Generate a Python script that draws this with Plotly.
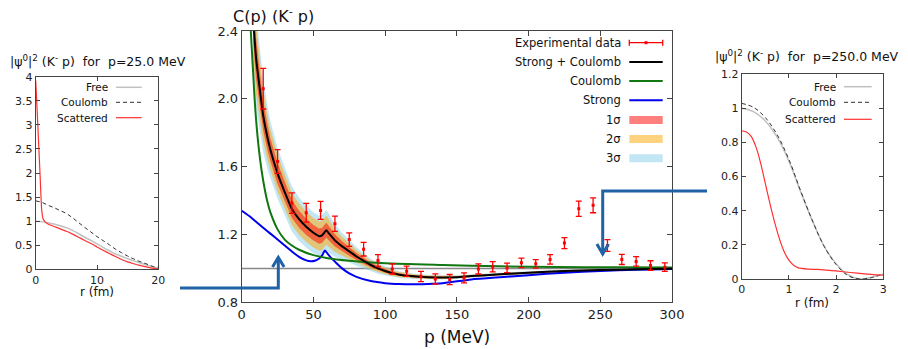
import plotly.graph_objects as go

W, H = 908, 349
FONT = "DejaVu Sans"

# ---------------- main panel data ----------------
p_exp = [15, 25, 35, 45, 55, 65, 75, 85, 95, 105, 115, 125, 135, 145, 155,
         165, 175, 185, 195, 205, 215, 225, 235, 245, 255, 265, 275, 285, 295]
c_exp = [2.06, 1.63, 1.385, 1.328, 1.342, 1.263, 1.17, 1.113, 1.046, 0.997, 0.983, 0.952, 0.938, 0.934, 0.944,
         0.997, 1.01, 1.003, 1.033, 1.027, 1.053, 1.149, 1.352, 1.372, 1.135, 1.053, 1.041, 1.017, 1.007]
c_err = [0.12, 0.07, 0.06, 0.055, 0.053, 0.045, 0.04, 0.04, 0.035, 0.03, 0.03, 0.03, 0.03, 0.03, 0.03,
         0.03, 0.03, 0.028, 0.028, 0.025, 0.028, 0.032, 0.045, 0.044, 0.035, 0.03, 0.028, 0.028, 0.025]

# Strong + Coulomb
p_sc = [8, 10, 12, 15, 18, 20, 25, 30, 35, 40, 45, 50, 54, 56, 57.5, 59, 60.5, 62, 65, 70, 75, 80,
        85, 90, 95, 100, 105, 110, 120, 130, 140, 150, 160, 180, 200, 225, 250, 275, 300]
c_sc = [2.47, 2.24, 2.10, 1.90, 1.77, 1.70, 1.56, 1.45, 1.35, 1.29, 1.245, 1.21, 1.19, 1.195, 1.21, 1.225, 1.21,
        1.195, 1.165, 1.13, 1.10, 1.07, 1.045, 1.02, 1.0, 0.985, 0.972, 0.963, 0.953, 0.948, 0.946, 0.948,
        0.955, 0.965, 0.975, 0.984, 0.99, 0.995, 0.998]
# band half-widths on the p_sc grid
sig1 = [0.13, 0.12, 0.105, 0.088, 0.075, 0.068, 0.062, 0.057, 0.053, 0.05, 0.048, 0.046, 0.045, 0.045, 0.044, 0.044, 0.043,
        0.041, 0.036, 0.03, 0.025, 0.021, 0.017, 0.014, 0.012, 0.011, 0.01, 0.009, 0.007, 0.006, 0.005, 0.005,
        0.004, 0.004, 0.004, 0.003, 0.003, 0.003, 0.003]
sig2 = [0.23, 0.21, 0.185, 0.155, 0.132, 0.12, 0.108, 0.1, 0.095, 0.092, 0.089, 0.087, 0.086, 0.086, 0.085, 0.085, 0.083,
        0.078, 0.069, 0.056, 0.046, 0.038, 0.031, 0.026, 0.022, 0.019, 0.017, 0.015, 0.012, 0.01, 0.009, 0.008,
        0.008, 0.007, 0.006, 0.006, 0.005, 0.005, 0.005]
sig3 = [0.32, 0.29, 0.255, 0.215, 0.185, 0.168, 0.15, 0.14, 0.133, 0.128, 0.124, 0.121, 0.12, 0.12, 0.12, 0.12, 0.116,
        0.11, 0.097, 0.08, 0.066, 0.055, 0.045, 0.037, 0.032, 0.027, 0.023, 0.02, 0.016, 0.014, 0.012, 0.011,
        0.01, 0.009, 0.008, 0.008, 0.007, 0.007, 0.007]

# Coulomb only
p_cou = [6, 7, 8, 9, 10, 12, 14, 16, 18, 20, 25, 30, 35, 40, 50, 60, 75, 100, 140, 180, 220, 260, 300]
c_cou = [2.45, 2.30, 2.15, 2.0, 1.88, 1.70, 1.57, 1.47, 1.39, 1.33, 1.23, 1.17, 1.135, 1.11, 1.078, 1.06,
         1.045, 1.03, 1.02, 1.012, 1.008, 1.006, 1.005]

# Strong only
p_str = [0, 5, 10, 15, 20, 25, 30, 35, 40, 45, 48, 51, 54, 56, 58, 60, 62, 65, 70, 75, 80, 90, 100,
         110, 120, 130, 140, 160, 180, 200, 225, 250, 275, 300]
c_str = [1.34, 1.31, 1.275, 1.24, 1.205, 1.17, 1.135, 1.10, 1.068, 1.047, 1.042, 1.045, 1.058, 1.075, 1.105,
         1.085, 1.065, 1.04, 1.0, 0.97, 0.95, 0.925, 0.913, 0.908, 0.907, 0.908, 0.912, 0.935, 0.948, 0.96,
         0.975, 0.985, 0.992, 0.996]
baseline = 1.0

# ---------------- left panel (p = 25 MeV) ----------------
r_l = [0, 1, 2, 3, 4, 5, 6, 7, 8, 9, 10, 11, 12, 13, 14, 15, 16, 17, 18, 19, 20]
free_l = [1.0, 0.99, 0.965, 0.94, 0.905, 0.865, 0.81, 0.74, 0.665, 0.6, 0.53, 0.455, 0.385, 0.32, 0.27,
          0.22, 0.175, 0.135, 0.095, 0.055, 0.02]
coul_l = [1.42, 1.39, 1.33, 1.28, 1.22, 1.16, 1.07, 0.97, 0.87, 0.775, 0.68, 0.595, 0.51, 0.42, 0.345,
          0.275, 0.215, 0.16, 0.115, 0.065, 0.02]
r_ls = [0, 0.2, 0.43, 0.7, 0.98, 1.2, 1.5, 2, 3, 4, 5, 6, 7, 8, 9, 10, 11, 12, 13, 14, 15, 16, 17, 18, 19, 20]
scat_l = [3.92, 3.4, 2.75, 2.0, 1.23, 1.05, 0.99, 0.94, 0.89, 0.84, 0.79, 0.73, 0.665, 0.6, 0.535, 0.465,
          0.395, 0.33, 0.265, 0.205, 0.155, 0.115, 0.08, 0.05, 0.025, 0.01]

# ---------------- right panel (p = 250 MeV) ----------------
r_r = [0, 0.25, 0.5, 0.75, 1.0, 1.25, 1.5, 1.75, 2.0, 2.25, 2.5, 2.75, 3.0]
free_r = [1.0, 0.98, 0.925, 0.83, 0.69, 0.51, 0.34, 0.19, 0.09, 0.025, 0.0, 0.01, 0.03]
coul_r = [1.028, 1.005, 0.945, 0.845, 0.70, 0.515, 0.34, 0.19, 0.085, 0.02, 0.0, 0.008, 0.03]
r_rs = [0, 0.1, 0.2, 0.3, 0.4, 0.5, 0.6, 0.7, 0.8, 0.9, 1.0, 1.1, 1.2, 1.4, 1.6, 1.8, 2.0, 2.3, 2.6, 3.0]
scat_r = [0.868, 0.86, 0.835, 0.775, 0.68, 0.56, 0.44, 0.33, 0.235, 0.16, 0.11, 0.08, 0.065, 0.058, 0.056,
          0.052, 0.047, 0.038, 0.03, 0.022]

# colours
C_RED = "#ff0000"
C_GREEN = "#117711"
C_BLUE = "#0000ee"
C_S1 = "rgba(255,0,0,0.5)"
C_S2 = "rgba(255,165,0,0.5)"
C_S3 = "rgba(135,206,235,0.5)"
C_ARROW = "#1f62a6"


def X(px):
    return px / W


def Y(py):
    return 1 - py / H


fig = go.Figure()


def band(hw, color):
    up = [c + h for c, h in zip(c_sc, hw)]
    lo = [c - h for c, h in zip(c_sc, hw)]
    fig.add_trace(go.Scatter(x=p_sc + p_sc[::-1], y=up + lo[::-1], fill="toself", fillcolor=color,
                             line=dict(width=0), mode="lines", hoverinfo="skip", showlegend=False,
                             xaxis="x", yaxis="y"))


band(sig3, C_S3)
band(sig2, C_S2)
band(sig1, C_S1)

fig.add_trace(go.Scatter(x=p_str, y=c_str, mode="lines", line=dict(color=C_BLUE, width=2, shape="spline", smoothing=0.6),
                         showlegend=False, xaxis="x", yaxis="y"))
fig.add_trace(go.Scatter(x=p_cou, y=c_cou, mode="lines", line=dict(color=C_GREEN, width=2, shape="spline", smoothing=0.6),
                         showlegend=False, xaxis="x", yaxis="y"))
fig.add_trace(go.Scatter(x=p_sc, y=c_sc, mode="lines", line=dict(color="black", width=2, shape="spline", smoothing=0.4),
                         showlegend=False, xaxis="x", yaxis="y"))
fig.add_trace(go.Scatter(x=p_exp, y=c_exp, mode="markers",
                         marker=dict(color=C_RED, size=3, symbol="square"),
                         error_y=dict(type="data", array=c_err, color=C_RED, thickness=1.3, width=3),
                         showlegend=False, xaxis="x", yaxis="y"))

# left panel
fig.add_trace(go.Scatter(x=r_l, y=free_l, mode="lines", line=dict(color="#c0c0c0", width=1.5, shape="spline"),
                         showlegend=False, xaxis="x2", yaxis="y2"))
fig.add_trace(go.Scatter(x=r_l, y=coul_l, mode="lines", line=dict(color="#333333", width=1, dash="4px,3px", shape="spline"),
                         showlegend=False, xaxis="x2", yaxis="y2"))
fig.add_trace(go.Scatter(x=r_ls, y=scat_l, mode="lines", line=dict(color="#ff3030", width=1.2, shape="spline", smoothing=0.5),
                         showlegend=False, xaxis="x2", yaxis="y2"))

# right panel
fig.add_trace(go.Scatter(x=r_r, y=free_r, mode="lines", line=dict(color="#c0c0c0", width=1.5, shape="spline"),
                         showlegend=False, xaxis="x3", yaxis="y3"))
fig.add_trace(go.Scatter(x=r_r, y=coul_r, mode="lines", line=dict(color="#333333", width=1, dash="4px,3px", shape="spline"),
                         showlegend=False, xaxis="x3", yaxis="y3"))
fig.add_trace(go.Scatter(x=r_rs, y=scat_r, mode="lines", line=dict(color="#ff3030", width=1.2, shape="spline", smoothing=0.6),
                         showlegend=False, xaxis="x3", yaxis="y3"))

axis_common = dict(showline=True, mirror="ticks", ticks="inside", ticklen=5, showgrid=False, zeroline=False,
                   linecolor="#444444", tickcolor="#444444", linewidth=1, automargin=False)

shapes = []
annotations = []

# baseline at 1
shapes.append(dict(type="line", xref="x domain", yref="y", x0=0, x1=1, y0=baseline, y1=baseline,
                   line=dict(color="#888888", width=1.5), layer="below"))

# arrows
def path(pts):
    return "M " + " L ".join(f"{X(a):.5f},{Y(b):.5f}" for a, b in pts)

arrow_style = dict(type="path", xref="paper", yref="paper", line=dict(color=C_ARROW, width=3))
shapes.append(dict(arrow_style, path=path([(180, 288), (278.3, 288), (278.3, 258)])))
shapes.append(dict(arrow_style, path=path([(272.5, 267), (278.3, 257.5), (284.1, 267)])))
shapes.append(dict(arrow_style, path=path([(707, 191), (602.7, 191), (602.7, 253)])))
shapes.append(dict(arrow_style, path=path([(596.9, 244), (602.7, 254), (608.5, 244)])))

# main legend
leg_rows = [42.7, 62, 81, 100.3, 120, 139, 158.3]
leg_labels = ["Experimental data", "Strong + Coulomb", "Coulomb", "Strong", "1σ", "2σ", "3σ"]
tx, s0, s1 = 622.7, 629.3, 662.7
for yy, lab in zip(leg_rows, leg_labels):
    annotations.append(dict(x=X(tx), y=Y(yy), xref="paper", yref="paper", text=lab, showarrow=False,
                            xanchor="right", yanchor="middle", font=dict(family=FONT, size=11.5, color="#111")))
# exp data sample
ye = leg_rows[0]
shapes.append(dict(type="line", xref="paper", yref="paper", x0=X(s0), x1=X(s1), y0=Y(ye), y1=Y(ye),
                   line=dict(color=C_RED, width=1.3)))
for xx in (s0, s1):
    shapes.append(dict(type="line", xref="paper", yref="paper", x0=X(xx), x1=X(xx), y0=Y(ye - 3), y1=Y(ye + 3),
                       line=dict(color=C_RED, width=1.3)))
shapes.append(dict(type="rect", xref="paper", yref="paper", x0=X((s0 + s1) / 2 - 1.5), x1=X((s0 + s1) / 2 + 1.5),
                   y0=Y(ye - 1.5), y1=Y(ye + 1.5), fillcolor=C_RED, line=dict(width=0)))
for yy, col in zip(leg_rows[1:4], ["black", C_GREEN, C_BLUE]):
    shapes.append(dict(type="line", xref="paper", yref="paper", x0=X(s0), x1=X(s1), y0=Y(yy), y1=Y(yy),
                       line=dict(color=col, width=2)))
for yy, col in zip(leg_rows[4:], [C_S1, C_S2, C_S3]):
    shapes.append(dict(type="rect", xref="paper", yref="paper", x0=X(s0), x1=X(s1), y0=Y(yy - 4), y1=Y(yy + 4),
                       fillcolor=col, line=dict(width=0)))

# side legends
def side_legend(rows, txr, a, b):
    labs = ["Free", "Coulomb", "Scattered"]
    styles = [dict(color="#c0c0c0", width=1.5), dict(color="#333333", width=1, dash="4px,3px"),
              dict(color="#ff3030", width=1.2)]
    for yy, lab, st in zip(rows, labs, styles):
        annotations.append(dict(x=X(txr), y=Y(yy), xref="paper", yref="paper", text=lab, showarrow=False,
                                xanchor="right", yanchor="middle", font=dict(family=FONT, size=10.5, color="#111")))
        shapes.append(dict(type="line", xref="paper", yref="paper", x0=X(a), x1=X(b), y0=Y(yy), y1=Y(yy), line=st))

side_legend([87.3, 102.3, 117.7], 110, 116, 141.7)
side_legend([86.7, 102.3, 119.3], 838.3, 844, 871.7)

# titles
nb = "\u00a0"
annotations += [
    dict(x=X(231), y=Y(15), xref="paper", yref="paper", showarrow=False, xanchor="left", yanchor="middle",
         text="C(p) (K<sup>-</sup> p)", font=dict(family=FONT, size=16, color="#111")),
    dict(x=X(456.7), y=Y(336.7), xref="paper", yref="paper", showarrow=False, xanchor="center", yanchor="middle",
         text="p (MeV)", font=dict(family=FONT, size=17, color="#111")),
    dict(x=X(8), y=Y(60.7), xref="paper", yref="paper", showarrow=False, xanchor="left", yanchor="middle",
         text=f"|ψ<sup>0</sup>|<sup>2</sup> (K<sup>-</sup> p){nb}{nb}for{nb}{nb}p=25.0 MeV",
         font=dict(family=FONT, size=12.5, color="#111")),
    dict(x=X(712.7), y=Y(56), xref="paper", yref="paper", showarrow=False, xanchor="left", yanchor="middle",
         text=f"|ψ<sup>0</sup>|<sup>2</sup> (K<sup>-</sup> p){nb}{nb}for{nb}{nb}p=250.0 MeV",
         font=dict(family=FONT, size=12.5, color="#111")),
    dict(x=X(96.7), y=Y(291.7), xref="paper", yref="paper", showarrow=False, xanchor="center", yanchor="middle",
         text="r (fm)", font=dict(family=FONT, size=12, color="#111")),
    dict(x=X(812), y=Y(303), xref="paper", yref="paper", showarrow=False, xanchor="center", yanchor="middle",
         text="r (fm)", font=dict(family=FONT, size=12, color="#111")),
]

main_ticks_y = [0.8, 1.2, 1.6, 2.0, 2.4]
fig.update_layout(
    width=W, height=H, margin=dict(l=0, r=0, t=0, b=0, pad=0, autoexpand=False),
    paper_bgcolor="white", plot_bgcolor="white", showlegend=False,
    font=dict(family=FONT, color="#222"),
    xaxis=dict(axis_common, domain=[X(241.7), X(672)], range=[0, 300], tickvals=[0, 50, 100, 150, 200, 250, 300],
               tickfont=dict(size=13), anchor="y"),
    yaxis=dict(axis_common, domain=[Y(302.3), Y(31)], range=[0.8, 2.4], tickvals=main_ticks_y,
               ticktext=[f"{v:.1f}" for v in main_ticks_y], tickfont=dict(size=13), anchor="x"),
    xaxis2=dict(axis_common, domain=[X(35.7), X(158.3)], range=[0, 20], tickvals=[0, 10, 20],
                tickfont=dict(size=11), anchor="y2", ticklen=4),
    yaxis2=dict(axis_common, domain=[Y(269.3), Y(76.7)], range=[0, 4], dtick=0.5, tick0=0,
                tickfont=dict(size=11), anchor="x2", ticklen=4),
    xaxis3=dict(axis_common, domain=[X(741.7), X(883.3)], range=[0, 3], tickvals=[0, 1, 2, 3],
                tickfont=dict(size=11), anchor="y3", ticklen=4),
    yaxis3=dict(axis_common, domain=[Y(279), Y(74)], range=[0, 1.2], tickvals=[0, 0.2, 0.4, 0.6, 0.8, 1.0, 1.2],
                ticktext=["0", "0.2", "0.4", "0.6", "0.8", "1", "1.2"], tickfont=dict(size=11), anchor="x3", ticklen=4),
    shapes=shapes, annotations=annotations,
)

fig.write_html("out.html", config={"displayModeBar": False},
               post_script="document.body.style.margin='0';document.body.style.overflow='hidden';")
